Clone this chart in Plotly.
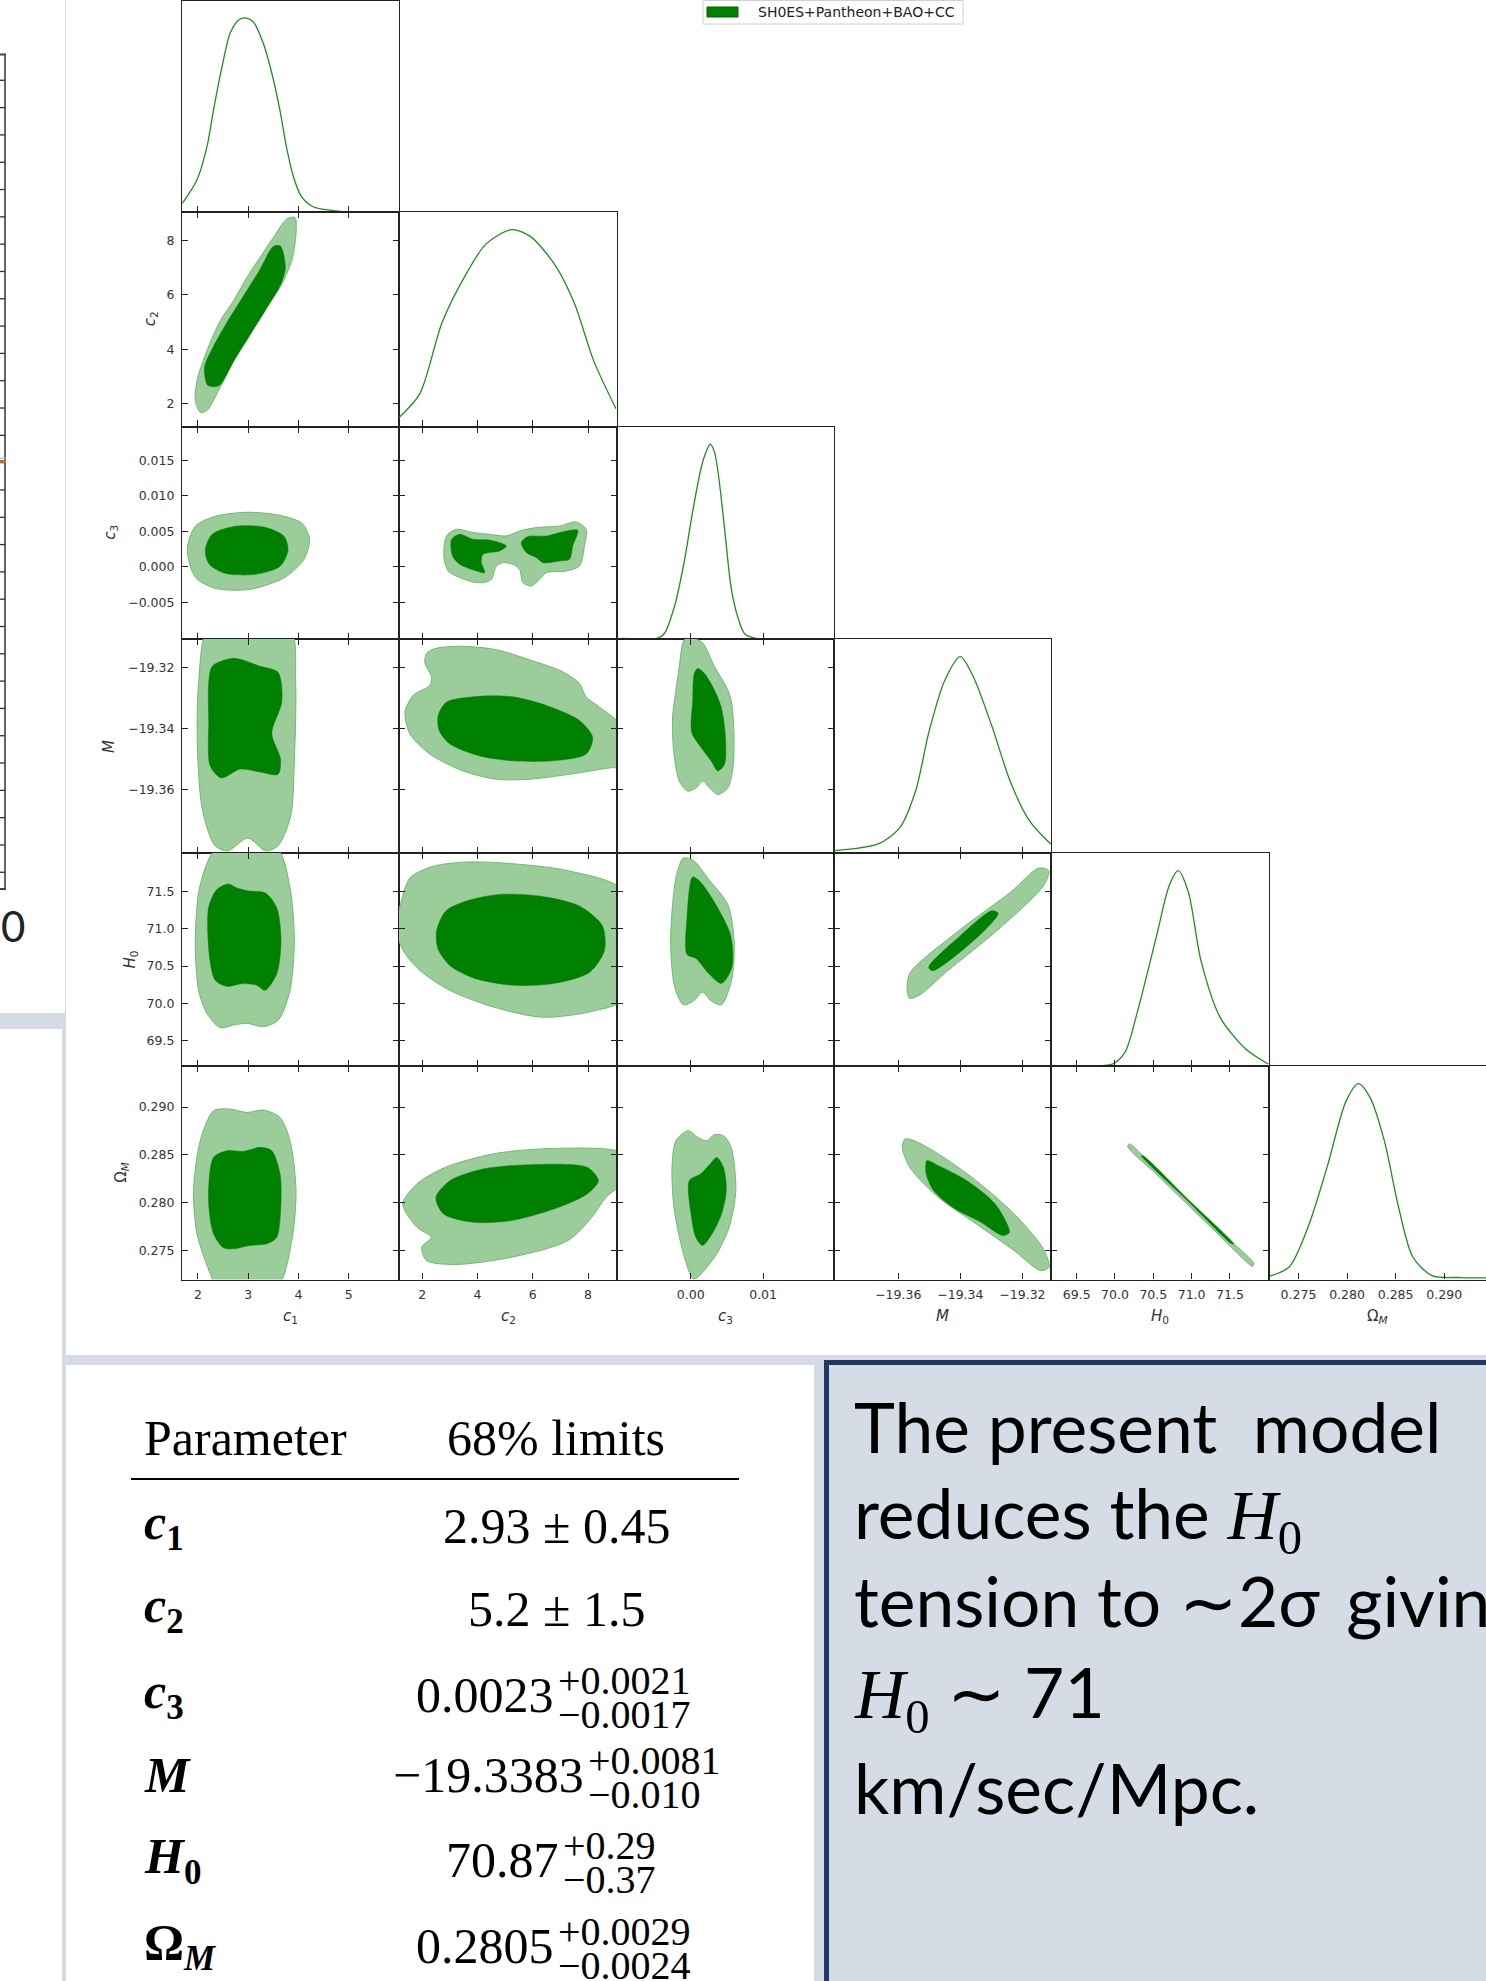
import plotly.graph_objects as go

W, H = 1486, 1981

# ---------------- parameters / axes ----------------
AXIS_TITLES = ["<i>c</i><sub>1</sub>", "<i>c</i><sub>2</sub>", "<i>c</i><sub>3</sub>",
               "<i>M</i>", "<i>H</i><sub>0</sub>", "Ω<sub><i>M</i></sub>"]

C1_RANGE = [1.683, 6.0]
C2_RANGE = [1.155, 9.05]
C3_RANGE = [-0.0102, 0.0198]
M_RANGE = [-19.3807, -19.3108]
H0_RANGE = [69.165, 72.01]
OM_RANGE = [0.27197, 0.2943]

C1_TICKS = [2, 3, 4, 5]
C2_TICKS = [2, 4, 6, 8]
C3_TICKS_X = [0.0, 0.01]
C3_TICKS_Y = [-0.005, 0.0, 0.005, 0.010, 0.015]
M_TICKS = [-19.36, -19.34, -19.32]
H0_TICKS = [69.5, 70.0, 70.5, 71.0, 71.5]
OM_TICKS = [0.275, 0.280, 0.285, 0.290]

# ---------------- 1D marginals (peak normalised to 1) ----------------
C1_GRID = [1.69, 1.98, 2.18, 2.31, 2.48, 2.64, 2.81, 2.94, 3.10, 3.30, 3.47, 3.63, 3.76, 3.90, 4.06, 4.29, 4.69, 4.95]
C1_DENS = [0.045, 0.165, 0.337, 0.526, 0.749, 0.921, 0.99, 1.0, 0.98, 0.87, 0.715, 0.526, 0.337, 0.182, 0.079, 0.027, 0.007, 0.0]

C2_GRID = [1.17, 1.91, 2.72, 3.63, 4.31, 5.23, 5.91, 6.82, 7.51, 8.20, 9.01]
C2_DENS = [0.047, 0.167, 0.53, 0.786, 0.928, 1.0, 0.966, 0.818, 0.625, 0.336, 0.091]

C3_GRID = [-0.0095, -0.0046, -0.00367, -0.00228, -0.00089, 0.00027, 0.00143, 0.00212, 0.00268,
           0.00327, 0.00383, 0.00466, 0.00559, 0.00652, 0.00744, 0.00883, 0.0125]
C3_DENS = [0.003, 0.005, 0.027, 0.164, 0.40, 0.656, 0.877, 0.96, 1.0, 0.96, 0.84, 0.57, 0.26, 0.11, 0.027, 0.005, 0.0]

M_GRID = [-19.3807, -19.3665, -19.3595, -19.3543, -19.3502, -19.3450, -19.3400, -19.3359, -19.3298, -19.3237, -19.3176, -19.3109]
M_DENS = [0.012, 0.046, 0.129, 0.322, 0.612, 0.88, 1.0, 0.90, 0.644, 0.355, 0.161, 0.046]

H0_GRID = [69.17, 69.6, 69.965, 70.13, 70.295, 70.544, 70.709, 70.826, 70.958, 71.123, 71.372, 71.702, 72.0]
H0_DENS = [0.0, 0.0, 0.01, 0.07, 0.281, 0.668, 0.925, 1.0, 0.89, 0.538, 0.249, 0.088, 0.01]

OM_GRID = [0.27207, 0.27404, 0.27599, 0.27795, 0.27991, 0.28118, 0.28236, 0.28383, 0.28530, 0.28677, 0.28874, 0.29169, 0.29430]
OM_DENS = [0.017, 0.064, 0.268, 0.574, 0.912, 1.0, 0.93, 0.71, 0.37, 0.115, 0.02, 0.01, 0.008]

# ---------------- 2D credible regions: (x, y) outlines, 95% and 68% ----------------
C2_C1_95 = [(2.046, 1.68), (1.947, 2.11), (1.981, 2.84), (2.179, 3.95), (2.443, 5.05), (2.707, 5.78),
            (2.973, 6.64), (3.236, 7.38), (3.500, 8.11), (3.766, 8.79), (3.931, 8.85), (3.951, 8.24),
            (3.866, 7.26), (3.630, 6.27), (3.302, 5.42), (3.038, 4.68), (2.774, 3.83), (2.443, 2.60), (2.179, 1.74)]
C2_C1_68 = [(2.20, 2.66), (2.13, 3.33), (2.30, 4.07), (2.56, 4.93), (2.89, 5.91), (3.22, 6.89),
            (3.50, 7.78), (3.64, 7.80), (3.74, 7.01), (3.65, 6.40), (3.38, 5.54), (3.05, 4.56),
            (2.72, 3.58), (2.42, 2.66)]

C3_C1_95 = [(1.788, 0.00246), (1.947, 0.00571), (2.344, 0.00712), (2.979, 0.00769), (3.634, 0.00726),
            (4.07, 0.00613), (4.22, 0.00387), (4.11, 0.00105), (3.73, -0.00149), (3.04, -0.00319),
            (2.34, -0.00304), (1.95, -0.00149)]
C3_C1_68 = [(2.145, 0.00232), (2.284, 0.00458), (2.741, 0.00571), (3.336, 0.00557), (3.713, 0.00430),
            (3.792, 0.00232), (3.634, 0.00006), (3.14, -0.00107), (2.543, -0.00093), (2.225, 0.00035)]

C3_C2_95 = [(2.877, 0.00434), (3.238, 0.00529), (3.837, 0.00482), (4.440, 0.00458), (5.043, 0.00434),
            (5.523, 0.00505), (6.126, 0.00553), (6.967, 0.00575), (7.570, 0.00632), (7.931, 0.00529),
            (7.870, 0.00293), (7.689, 0.00010), (7.209, -0.00060), (6.487, -0.00083), (6.245, -0.00177),
            (5.946, -0.00272), (5.642, -0.00224), (5.523, -0.00036), (5.281, 0.00034), (4.920, 0.00058),
            (4.682, 0.00010), (4.502, -0.00177), (4.198, -0.00224), (3.837, -0.00215), (3.357, -0.00153),
            (2.935, -0.00060), (2.779, 0.00152)]
C3_C2_68A = [(3.058, 0.00387), (3.357, 0.00458), (3.837, 0.00387), (4.440, 0.00377), (5.043, 0.00293),
             (4.801, 0.00222), (4.198, 0.00176), (4.140, 0.00059), (4.259, -0.00083), (3.959, -0.00060),
             (3.357, 0.00034), (3.093, 0.00152)]
C3_C2_68B = [(5.585, 0.00341), (5.823, 0.00426), (6.487, 0.00434), (7.209, 0.00505), (7.628, 0.00515),
             (7.448, 0.00293), (7.328, 0.00105), (6.967, 0.00081), (6.365, 0.00058), (6.126, 0.00129),
             (5.765, 0.00200)]

M_C1_95 = [(2.215, -19.3067), (3.092, -19.3050), (3.844, -19.3075), (3.945, -19.3250), (3.919, -19.3500),
           (3.844, -19.3687), (3.594, -19.3783), (3.344, -19.3800), (2.993, -19.3758), (2.590, -19.3800),
           (2.340, -19.3783), (2.090, -19.3667), (1.989, -19.3458), (2.014, -19.3250)]
M_C1_68 = [(2.290, -19.3196), (2.717, -19.3171), (3.217, -19.3196), (3.594, -19.3217), (3.669, -19.3312),
           (3.469, -19.3417), (3.643, -19.3500), (3.594, -19.3550), (3.217, -19.3542), (2.842, -19.3533),
           (2.465, -19.3562), (2.241, -19.3521), (2.215, -19.3375), (2.215, -19.3250)]

M_C2_95 = [(2.155, -19.3154), (2.516, -19.3138), (3.476, -19.3132), (4.682, -19.3143), (5.884, -19.3176),
           (7.086, -19.3215), (7.689, -19.3253), (7.931, -19.3297), (8.411, -19.3330), (9.252, -19.3396),
           (9.252, -19.3528), (8.891, -19.3528), (7.689, -19.3545), (5.884, -19.3566), (4.682, -19.3566),
           (3.476, -19.3539), (2.274, -19.3484), (1.552, -19.3418), (1.372, -19.3347), (1.671, -19.3292),
           (2.274, -19.3259), (2.335, -19.3231), (2.094, -19.3187)]
M_C2_68 = [(2.574, -19.3358), (2.877, -19.3314), (4.079, -19.3295), (5.281, -19.3297), (6.487, -19.3325),
           (7.689, -19.3374), (8.169, -19.3429), (7.931, -19.3484), (6.725, -19.3506), (5.281, -19.3506),
           (4.079, -19.3490), (3.000, -19.3451), (2.610, -19.3407)]

M_C3_95 = [(-0.00089, -19.3110), (0.00027, -19.3105), (0.00166, -19.3121), (0.00327, -19.3198),
           (0.00490, -19.3264), (0.00559, -19.3308), (0.00597, -19.3418), (0.00583, -19.3528),
           (0.00513, -19.3594), (0.00374, -19.3616), (0.00258, -19.3594), (0.00166, -19.3572),
           (0.00073, -19.3594), (-0.00042, -19.3605), (-0.00159, -19.3572), (-0.00237, -19.3473),
           (-0.00251, -19.3363), (-0.00205, -19.3275), (-0.00159, -19.3198)]
M_C3_68 = [(0.00097, -19.3204), (0.00188, -19.3220), (0.00327, -19.3275), (0.00420, -19.3330),
           (0.00476, -19.3418), (0.00466, -19.3517), (0.00374, -19.3539), (0.00281, -19.3506),
           (0.00143, -19.3462), (0.00013, -19.3413), (0.00027, -19.3308), (0.00049, -19.3220)]

H0_C1_95 = [(2.377, 72.074), (2.046, 71.589), (1.947, 70.838), (2.013, 70.176), (2.179, 69.868),
            (2.443, 69.677), (2.707, 69.713), (2.973, 69.735), (3.302, 69.690), (3.600, 69.779),
            (3.832, 70.176), (3.917, 70.838), (3.832, 71.544), (3.568, 72.074)]
H0_C1_68 = [(2.211, 71.279), (2.377, 71.523), (2.608, 71.597), (2.774, 71.544), (3.038, 71.501),
            (3.336, 71.478), (3.568, 71.279), (3.653, 70.838), (3.568, 70.397), (3.336, 70.176),
            (3.171, 70.243), (2.873, 70.265), (2.576, 70.229), (2.344, 70.309), (2.231, 70.617)]

H0_C2_95 = [(1.01, 71.04), (1.191, 71.302), (1.552, 71.677), (2.393, 71.832), (3.599, 71.889),
            (4.996, 71.874), (7.278, 71.774), (9.33, 71.49), (9.33, 70.068), (8.191, 69.899),
            (6.364, 69.816), (4.560, 69.955), (2.996, 70.176), (1.913, 70.441), (1.310, 70.706)]
H0_C2_68 = [(2.516, 70.972), (2.851, 71.236), (3.599, 71.369), (4.801, 71.457), (6.245, 71.434),
            (7.689, 71.302), (8.519, 71.037), (8.592, 70.706), (8.050, 70.415), (6.786, 70.269),
            (5.342, 70.242), (3.898, 70.335), (2.996, 70.507), (2.563, 70.733)]

H0_C3_95 = [(-0.00103, 71.942), (0.00038, 71.909), (0.00248, 71.657), (0.00512, 71.322), (0.00599, 70.820),
            (0.00565, 70.318), (0.00424, 69.983), (0.00284, 70.033), (0.00161, 70.151), (0.00038, 70.033),
            (-0.00103, 69.983), (-0.00226, 70.234), (-0.00278, 70.820), (-0.00244, 71.405), (-0.00191, 71.740)]
H0_C3_68 = [(0.00026, 71.69), (0.00148, 71.607), (0.00376, 71.272), (0.00552, 70.905), (0.00569, 70.485),
            (0.00424, 70.268), (0.00248, 70.401), (0.00073, 70.601), (-0.00051, 70.653), (-0.00051, 71.155)]

H0_M_95 = [(-19.3571, 70.151), (-19.3563, 70.401), (-19.3400, 70.988), (-19.3237, 71.490), (-19.3148, 71.808),
           (-19.3115, 71.774), (-19.3132, 71.574), (-19.3278, 70.988), (-19.3441, 70.436), (-19.3530, 70.117),
           (-19.3563, 70.068)]
H0_M_68 = [(-19.3502, 70.485), (-19.3400, 70.905), (-19.3299, 71.238), (-19.3278, 71.205), (-19.3319, 70.988),
           (-19.3421, 70.619), (-19.3490, 70.436)]

OM_C1_95 = [(2.046, 0.28648), (2.310, 0.28962), (2.641, 0.28979), (2.973, 0.28944), (3.302, 0.28969),
            (3.633, 0.28892), (3.832, 0.28648), (3.951, 0.28127), (3.866, 0.27605), (3.568, 0.27117),
            (2.377, 0.27117), (2.245, 0.27257), (1.981, 0.27675), (1.913, 0.28127)]
OM_C1_68 = [(2.310, 0.28474), (2.576, 0.28544), (2.905, 0.28537), (3.236, 0.28579), (3.469, 0.28544),
            (3.633, 0.28301), (3.653, 0.28022), (3.568, 0.27639), (3.370, 0.27570), (3.038, 0.27553),
            (2.707, 0.27518), (2.508, 0.27528), (2.310, 0.27675), (2.211, 0.28022)]

OM_C2_95 = [(1.292, 0.27988), (1.805, 0.28197), (2.834, 0.28370), (4.545, 0.28510), (6.256, 0.28562),
            (8.650, 0.28562), (9.336, 0.28510), (9.336, 0.28231), (8.650, 0.28057), (8.137, 0.27848),
            (7.281, 0.27605), (5.227, 0.27430), (3.177, 0.27354), (2.148, 0.27396), (1.978, 0.27535),
            (2.321, 0.27639), (1.805, 0.27744)]
OM_C2_68 = [(2.491, 0.28057), (3.003, 0.28231), (4.202, 0.28353), (5.913, 0.28398), (7.967, 0.28370),
            (8.375, 0.28231), (7.967, 0.28092), (6.938, 0.27952), (5.227, 0.27813), (3.859, 0.27796),
            (2.765, 0.27883)]

OM_C3_95 = [(-0.00035, 0.28753), (0.00097, 0.28683), (0.00229, 0.28648), (0.00320, 0.28711), (0.00452, 0.28701),
            (0.00558, 0.28579), (0.00623, 0.28127), (0.00530, 0.27743), (0.00359, 0.27466), (0.00097, 0.27222),
            (0.00030, 0.27205), (-0.00101, 0.27466), (-0.00233, 0.27952), (-0.00259, 0.28370), (-0.00206, 0.28648)]
OM_C3_68 = [(0.00359, 0.28474), (0.00452, 0.28370), (0.00491, 0.28127), (0.00426, 0.27883), (0.00294, 0.27675),
            (0.00162, 0.27553), (0.00070, 0.27639), (0.00004, 0.27883), (-0.00021, 0.28231), (0.00136, 0.28301),
            (0.00267, 0.28405)]

OM_M_95 = [(-19.3578, 0.28666), (-19.3548, 0.28648), (-19.3471, 0.28510), (-19.3349, 0.28231), (-19.3227, 0.27883),
           (-19.3136, 0.27535), (-19.3114, 0.27326), (-19.3142, 0.27292), (-19.3227, 0.27500), (-19.3349, 0.27779),
           (-19.3471, 0.28057), (-19.3563, 0.28370), (-19.3587, 0.28579)]
OM_M_68 = [(-19.3508, 0.28440), (-19.3471, 0.28388), (-19.3379, 0.28231), (-19.3288, 0.27988), (-19.3242, 0.27691),
           (-19.3263, 0.27657), (-19.3334, 0.27796), (-19.3425, 0.27952), (-19.3486, 0.28127), (-19.3510, 0.28301)]

OM_H0_95 = [(70.235, 0.28590), (70.635, 0.28279), (71.035, 0.27967), (71.435, 0.27656), (71.815, 0.27360),
            (71.79, 0.27335), (71.745, 0.27360), (71.365, 0.27656), (70.965, 0.27967), (70.565, 0.28279),
            (70.165, 0.28590), (70.19, 0.28615)]
OM_H0_68 = [(70.369, 0.28490), (70.95, 0.28037), (71.549, 0.27570), (71.525, 0.27570), (70.926, 0.28037),
            (70.345, 0.28490)]

# ---------------- summary table ----------------
TABLE_LABELS = ["<b><i>c</i><sub>1</sub></b>", "<b><i>c</i><sub>2</sub></b>", "<b><i>c</i><sub>3</sub></b>",
                "<b><i>M</i></b>", "<b><i>H</i><sub>0</sub></b>", "<b>Ω<sub><i>M</i></sub></b>"]
TABLE_VALUES = ["2.93 ± 0.45", "5.2 ± 1.5", "0.0023", "−19.3383", "70.87", "0.2805"]
TABLE_UPPER = [None, None, "+0.0021", "+0.0081", "+0.29", "+0.0029"]
TABLE_LOWER = [None, None, "−0.0017", "−0.010", "−0.37", "−0.0024"]

# ---------------- styling ----------------
DARK = "#008000"
LIGHT = "#9bcd9b"
EDGE = "#72b872"
CURVE = "#1f8f1f"
FRAME = "#222222"
LINE_W = 1.1
TICKFONT = dict(family="DejaVu Sans", size=12.5, color="#333333")
PANEL_BG = "#d6dce5"
NAVY = "#1f3864"

COL_EDGES = [182, 399, 617, 834, 1051, 1269, 1486]
ROW_EDGES = [0.5, 212, 426.5, 639, 853, 1066, 1279.5]


def px(x):
    return x / W


def py(y):
    return 1 - y / H


RANGES = [C1_RANGE, C2_RANGE, C3_RANGE, M_RANGE, H0_RANGE, OM_RANGE]
XTICKS = [C1_TICKS, C2_TICKS, C3_TICKS_X, M_TICKS, H0_TICKS, OM_TICKS]
YTICKS = [C1_TICKS, C2_TICKS, C3_TICKS_Y, M_TICKS, H0_TICKS, OM_TICKS]
XFMT = ["d", "d", ".2f", ".2f", ".1f", ".3f"]
YFMT = ["d", "d", ".3f", ".2f", ".1f", ".3f"]
MARGINALS = [(C1_GRID, C1_DENS), (C2_GRID, C2_DENS), (C3_GRID, C3_DENS),
             (M_GRID, M_DENS), (H0_GRID, H0_DENS), (OM_GRID, OM_DENS)]
CONTOURS = {
    (1, 0): ([C2_C1_95], [C2_C1_68]),
    (2, 0): ([C3_C1_95], [C3_C1_68]),
    (2, 1): ([C3_C2_95], [C3_C2_68A, C3_C2_68B]),
    (3, 0): ([M_C1_95], [M_C1_68]),
    (3, 1): ([M_C2_95], [M_C2_68]),
    (3, 2): ([M_C3_95], [M_C3_68]),
    (4, 0): ([H0_C1_95], [H0_C1_68]),
    (4, 1): ([H0_C2_95], [H0_C2_68]),
    (4, 2): ([H0_C3_95], [H0_C3_68]),
    (4, 3): ([H0_M_95], [H0_M_68]),
    (5, 0): ([OM_C1_95], [OM_C1_68]),
    (5, 1): ([OM_C2_95], [OM_C2_68]),
    (5, 2): ([OM_C3_95], [OM_C3_68]),
    (5, 3): ([OM_M_95], [OM_M_68]),
    (5, 4): ([OM_H0_95], [OM_H0_68]),
}


def closed(pts):
    xs = [p[0] for p in pts] + [pts[0][0]]
    ys = [p[1] for p in pts] + [pts[0][1]]
    return xs, ys


fig = go.Figure()
layout_axes = {}
n = 0
for i in range(6):
    for j in range(i + 1):
        n += 1
        xname = "x" if n == 1 else f"x{n}"
        yname = "y" if n == 1 else f"y{n}"
        xkey = "xaxis" if n == 1 else f"xaxis{n}"
        ykey = "yaxis" if n == 1 else f"yaxis{n}"
        diag = (i == j)

        if diag:
            gx, gd = MARGINALS[i]
            fig.add_trace(go.Scatter(x=gx, y=gd, mode="lines", xaxis=xname, yaxis=yname,
                                     line=dict(color=CURVE, width=1.3, shape="spline", smoothing=0.8),
                                     hoverinfo="skip"))
        else:
            outer, inner = CONTOURS[(i, j)]
            for poly in outer:
                xs, ys = closed(poly)
                fig.add_trace(go.Scatter(x=xs, y=ys, mode="lines", fill="toself", fillcolor=LIGHT,
                                         xaxis=xname, yaxis=yname, hoverinfo="skip",
                                         line=dict(color=EDGE, width=1, shape="spline", smoothing=0.8)))
            for poly in inner:
                xs, ys = closed(poly)
                fig.add_trace(go.Scatter(x=xs, y=ys, mode="lines", fill="toself", fillcolor=DARK,
                                         xaxis=xname, yaxis=yname, hoverinfo="skip",
                                         line=dict(color=DARK, width=0.5, shape="spline", smoothing=0.8)))

        common = dict(showgrid=False, zeroline=False, showline=True, linecolor=FRAME, linewidth=LINE_W,
                      ticks="inside", ticklen=6, tickwidth=1.2, tickcolor=FRAME, tickfont=TICKFONT)
        layout_axes[xkey] = dict(common, domain=[px(COL_EDGES[j]), px(COL_EDGES[j + 1])],
                                 range=RANGES[j], anchor=yname, tickvals=XTICKS[j],
                                 tickformat=XFMT[j], showticklabels=(i == 5),
                                 mirror=(True if diag else "ticks"), ticklabelstandoff=3)
        if diag:
            layout_axes[ykey] = dict(showgrid=False, zeroline=False, showline=True, linecolor=FRAME,
                                     linewidth=LINE_W, mirror=True, ticks="", showticklabels=False,
                                     domain=[py(ROW_EDGES[i + 1]), py(ROW_EDGES[i])],
                                     range=[0, 1.09], anchor=xname)
        else:
            layout_axes[ykey] = dict(common, domain=[py(ROW_EDGES[i + 1]), py(ROW_EDGES[i])],
                                     range=RANGES[i], anchor=xname, tickvals=YTICKS[i],
                                     tickformat=YFMT[i], showticklabels=(j == 0),
                                     mirror="ticks", ticklabelstandoff=4)

annotations = []


def note(x, y, text, size, family, color="#000000", xanchor="left", yanchor="middle", angle=0):
    annotations.append(dict(x=px(x), y=py(y), xref="paper", yref="paper", text=text, showarrow=False,
                            xanchor=xanchor, yanchor=yanchor, textangle=angle,
                            font=dict(size=size, family=family, color=color)))


# axis titles
TITLE_FONT = "DejaVu Sans"
for j in range(6):
    note((COL_EDGES[j] + COL_EDGES[j + 1]) / 2, 1316, AXIS_TITLES[j], 15, TITLE_FONT, "#333333", "center")
YTITLE_X = [None, 150, 111, 109, 130, 122]
for i in range(1, 6):
    note(YTITLE_X[i], (ROW_EDGES[i] + ROW_EDGES[i + 1]) / 2, AXIS_TITLES[i], 15, TITLE_FONT, "#333333",
         "center", "middle", -90)

# legend
note(756, 12, "SH0ES+Pantheon+BAO+CC", 14, "DejaVu Sans", "#222222")

# left strip remnant
note(27, 926, "0", 42, "Lato", "#222222", "right")

# table
SERIF = "Liberation Serif"
note(142, 1438, "Parameter", 50, SERIF)
note(556, 1438, "68% limits", 50, SERIF, xanchor="center")
ROW_Y = [1526, 1609, 1695, 1775, 1860, 1946]
SCRIPT_X = [None, None, 556, 586, 561, 556]
for k in range(6):
    note(142, ROW_Y[k], TABLE_LABELS[k], 50, SERIF)
    if TABLE_UPPER[k] is None:
        note(556, ROW_Y[k], TABLE_VALUES[k], 50, SERIF, xanchor="center")
    else:
        note(SCRIPT_X[k], ROW_Y[k], TABLE_VALUES[k], 50, SERIF, xanchor="right")
        note(SCRIPT_X[k], ROW_Y[k] - 15, TABLE_UPPER[k], 40, SERIF)
        note(SCRIPT_X[k], ROW_Y[k] + 19, TABLE_LOWER[k], 40, SERIF)

# text box
SANS = "Lato"
H0_MATH = '<span style="font-family:Liberation Serif"><i>H</i><sub>0</sub></span>'
BOX_LINES = ["The present\u00a0\u00a0model",
             "reduces the " + H0_MATH,
             "tension to \u223c2σ\u00a0\u2009giving",
             H0_MATH + " \u223c 71",
             "km/sec/Mpc."]
BOX_BASE = [1448, 1539, 1622, 1718, 1809]
for text, base in zip(BOX_LINES, BOX_BASE):
    note(852, base - 22, text, 69.5, SANS)

shapes = []


def rect(x0, y0, x1, y1, fill, line_color=None, line_width=0):
    shapes.append(dict(type="rect", xref="paper", yref="paper", x0=px(x0), x1=px(x1), y0=py(y1), y1=py(y0),
                       fillcolor=fill, line=dict(color=line_color or fill, width=line_width)))


def seg(x0, y0, x1, y1, color, width):
    shapes.append(dict(type="line", xref="paper", yref="paper", x0=px(x0), x1=px(x1), y0=py(y0), y1=py(y1),
                       line=dict(color=color, width=width)))


# slide panels
seg(65.5, 0, 65.5, 1013, "#d3d6df", 1)
rect(0, 1013, 66, 1029, PANEL_BG)
rect(62, 1029, 66, 1990, PANEL_BG)
rect(62, 1355, 1490, 1365, PANEL_BG)
rect(814, 1365, 826, 1990, PANEL_BG)
rect(826.5, 1362.5, 1495, 1995, PANEL_BG, NAVY, 5)

# table rule
seg(131, 1479, 739, 1479, "#000000", 2)

# partial neighbouring axis on the far left
seg(5, 54, 5, 890, "#666666", 2)
seg(0, 54.5, 6, 54.5, "#444444", 2)
seg(0, 889, 6, 889, "#444444", 2)
for k in range(30):
    yk = 80.3 + k * 27.31
    seg(0, yk, 5, yk, "#333333", 1.3)
seg(0, 458, 6, 458, "#b9a9d9", 1)
seg(0, 461.5, 6, 461.5, "#b8702e", 3)

# legend frame and patch
rect(703, 0.5, 963, 24, "#ffffff", "#d0d0d0", 1)
rect(707, 7, 738, 17, DARK, "#006400", 1)

fig.update_layout(width=W, height=H, margin=dict(l=0, r=0, t=0, b=0),
                  paper_bgcolor="#ffffff", plot_bgcolor="#ffffff", showlegend=False,
                  annotations=annotations, shapes=shapes, **layout_axes)

fig.write_html("out.html")
